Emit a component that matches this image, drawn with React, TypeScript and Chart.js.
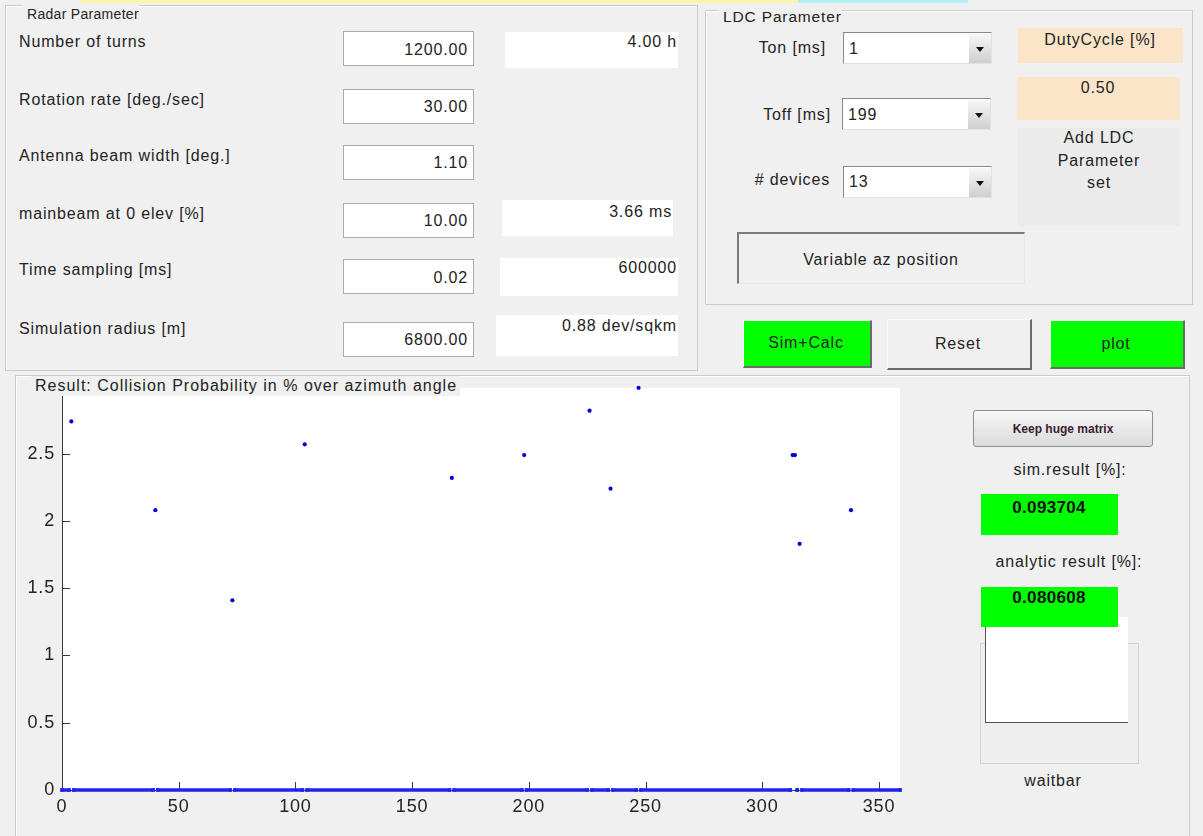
import React, { useEffect, useRef } from "react";
import { Chart, registerables } from "chart.js";

Chart.register(...registerables);

// ---------- chart data ----------
const azimuthRange = [0, 359];
const probabilityRange = [0, 2.99];
const xTickStep = 50;
const yTickStep = 0.5;

// azimuth bins (deg) where a collision was found, and its probability (%)
const hitAzimuthDeg = [4, 40, 73, 104, 167, 198, 226, 235, 247, 313, 314, 316, 338];
const hitProbabilityPct = [2.74, 2.08, 1.41, 2.57, 2.32, 2.49, 2.82, 2.24, 2.99, 2.49, 2.49, 1.83, 2.08];

// runs of consecutive 1-degree bins with probability 0 %
const zeroRunStartDeg = [0, 5, 41, 74, 105, 168, 199, 227, 236, 248, 315, 317, 339];
const zeroRunEndDeg = [3, 39, 72, 103, 166, 197, 225, 234, 246, 312, 315, 337, 359];
const zeroRunValue = 0;

// ---------- GUI texts ----------
const radarLabels = [
  "Number of turns",
  "Rotation rate [deg./sec]",
  "Antenna beam width [deg.]",
  "mainbeam at 0 elev [%]",
  "Time sampling [ms]",
  "Simulation radius [m]",
];
const radarInputs = ["1200.00", "30.00", "1.10", "10.00", "0.02", "6800.00"];
const radarOutputs = ["4.00 h", "", "", "3.66 ms", "600000", "0.88 dev/sqkm"];
const ldcLabels = ["Ton [ms]", "Toff [ms]", "# devices"];
const ldcValues = ["1", "199", "13"];
const simResult = "0.093704";
const analyticResult = "0.080608";

const FONT = '"Liberation Sans", Arial, Helvetica, sans-serif';
const BG = "#f0f0f0";
const TXT = "#232323";

const matlabAxes = {
  id: "matlabAxes",
  beforeDraw(chart: any) {
    const { ctx, chartArea: a } = chart;
    ctx.save();
    ctx.fillStyle = "#ffffff";
    ctx.fillRect(a.left, a.top, a.right - a.left, a.bottom - a.top);
    ctx.restore();
  },
  beforeDatasetsDraw(chart: any) {
    const { ctx, chartArea: a, scales } = chart;
    const len = 8;
    ctx.save();
    ctx.strokeStyle = "#3a3a3a";
    ctx.lineWidth = 1;
    ctx.beginPath();
    for (const t of scales.x.ticks) {
      const px = Math.round(scales.x.getPixelForValue(t.value)) + 0.5;
      ctx.moveTo(px, a.bottom);
      ctx.lineTo(px, a.bottom - len);
    }
    for (const t of scales.y.ticks) {
      const py = Math.round(scales.y.getPixelForValue(t.value)) + 0.5;
      ctx.moveTo(a.left, py);
      ctx.lineTo(a.left + len, py);
    }
    ctx.stroke();
    ctx.restore();
  },
};

function CollisionChart() {
  const ref = useRef<HTMLCanvasElement | null>(null);
  useEffect(() => {
    const canvas = ref.current;
    if (!canvas) return;
    const zeroRuns: any[] = [];
    zeroRunStartDeg.forEach((s, i) => {
      zeroRuns.push({ x: s, y: zeroRunValue });
      zeroRuns.push({ x: zeroRunEndDeg[i], y: zeroRunValue });
      zeroRuns.push({ x: zeroRunEndDeg[i], y: null });
    });
    const hits = hitAzimuthDeg.map((a, i) => ({ x: a, y: hitProbabilityPct[i] }));
    const tickFont = { family: FONT, size: 18 };
    const chart = new Chart(canvas, {
      type: "scatter",
      data: {
        datasets: [
          {
            data: zeroRuns,
            showLine: true,
            spanGaps: false,
            borderColor: "#2222ee",
            backgroundColor: "#2222ee",
            borderWidth: 3.5,
            borderCapStyle: "square",
            pointStyle: "rect",
            pointRadius: 2.4,
            pointBorderWidth: 0,
            pointHoverRadius: 2.4,
            clip: false,
            order: 2,
          } as any,
          {
            data: hits,
            backgroundColor: "#0000dd",
            borderColor: "#0000dd",
            pointRadius: 2.1,
            pointBorderWidth: 0,
            pointHoverRadius: 2.1,
            clip: false,
            order: 1,
          } as any,
        ],
      },
      options: {
        animation: false,
        responsive: false,
        devicePixelRatio: 1,
        events: [],
        layout: { padding: { left: 0, top: 17, right: 20, bottom: 0 } },
        plugins: { legend: { display: false }, tooltip: { enabled: false } },
        scales: {
          x: {
            type: "linear",
            min: azimuthRange[0],
            max: azimuthRange[1],
            grid: { display: false, drawTicks: false },
            border: { display: true, color: "#3a3a3a", width: 1 },
            ticks: {
              stepSize: xTickStep,
              includeBounds: false,
              color: TXT,
              font: tickFont,
              padding: 6,
              maxRotation: 0,
              autoSkip: false,
              callback: (v: any) => String(v),
            },
            afterFit: (s: any) => {
              s.height = 46;
            },
          },
          y: {
            type: "linear",
            min: probabilityRange[0],
            max: probabilityRange[1],
            grid: { display: false, drawTicks: false },
            border: { display: true, color: "#3a3a3a", width: 1 },
            ticks: {
              stepSize: yTickStep,
              includeBounds: false,
              color: TXT,
              font: tickFont,
              padding: 7,
              autoSkip: false,
              callback: (v: any) => String(v),
            },
            afterFit: (s: any) => {
              s.width = 62;
            },
          },
        },
      } as any,
      plugins: [matlabAxes],
    });
    return () => chart.destroy();
  }, []);
  return (
    <canvas
      ref={ref}
      width={920}
      height={466}
      style={{ position: "absolute", left: 0, top: 370, width: 920, height: 466, zIndex: 1 }}
    />
  );
}

const abs = (l: number, t: number, w: number, h: number, extra: any = {}) => ({
  position: "absolute" as const,
  left: l,
  top: t,
  width: w,
  height: h,
  boxSizing: "border-box" as const,
  ...extra,
});

function Txt(props: { x: number; cy: number; w?: number; align?: string; text: string; style?: any }) {
  const w = props.w ?? 300;
  const align = props.align ?? "left";
  const left = align === "left" ? props.x : align === "right" ? props.x - w : props.x - w / 2;
  return (
    <div
      style={{
        position: "absolute",
        left,
        top: props.cy - 10,
        width: w,
        height: 20,
        lineHeight: "20px",
        textAlign: align as any,
        whiteSpace: "nowrap",
        ...(props.style || {}),
      }}
    >
      {props.text}
    </div>
  );
}

function Dropdown(props: { x: number; y: number; text: string; cy: number }) {
  return (
    <div
      style={abs(props.x, props.y, 149, 32, {
        background: "#fff",
        borderTop: "1px solid #8a8a8a",
        borderLeft: "1px solid #8a8a8a",
        borderRight: "1px solid #e2e2e2",
        borderBottom: "1px solid #e2e2e2",
      })}
    >
      <Txt x={5} cy={props.cy - props.y - 1} text={props.text} />
      <div
        style={{
          position: "absolute",
          right: 0,
          top: 1,
          bottom: 0,
          width: 22,
          background: "linear-gradient(#f7f7f7, #cfcfcf)",
        }}
      >
        <div
          style={{
            position: "absolute",
            left: 7,
            top: 13,
            width: 0,
            height: 0,
            borderLeft: "4px solid transparent",
            borderRight: "4px solid transparent",
            borderTop: "5px solid #111",
          }}
        />
      </div>
    </div>
  );
}

export default function App() {
  const labelY = [42, 100, 156, 214, 270, 329];
  const boxY = [31, 89, 145, 203, 259, 322];
  const valueY = [50, 107, 163, 221, 278, 340];
  const outBoxes: any[] = [
    { x: 505, y: 32, w: 173, h: 36, ty: 42 },
    null,
    null,
    { x: 502, y: 200, w: 171, h: 36, ty: 212 },
    { x: 500, y: 258, w: 178, h: 38, ty: 268 },
    { x: 496, y: 315, w: 182, h: 41, ty: 326 },
  ];
  const ldcLabelRight = [826, 831, 830];
  const ldcLabelY = [48, 115, 180];
  const ddPos = [
    { x: 843, y: 32, cy: 49 },
    { x: 842, y: 98, cy: 115 },
    { x: 843, y: 166, cy: 182 },
  ];
  const panelBorder = { border: "1px solid #cbcbcb", boxShadow: "inset 1px 1px 0 #ffffff" };
  const raised = {
    borderTop: "1px solid #fafafa",
    borderLeft: "1px solid #fafafa",
    borderRight: "2px solid #6c6c6c",
    borderBottom: "2px solid #6c6c6c",
  };

  return (
    <div
      style={{
        position: "absolute",
        left: 0,
        top: 0,
        width: 1203,
        height: 836,
        overflow: "hidden",
        background: BG,
        fontFamily: FONT,
        fontSize: 16,
        color: TXT,
        letterSpacing: "0.85px",
      }}
    >
      {/* top strips */}
      <div style={abs(80, 0, 718, 3, { background: "#fbf5ac" })} />
      <div style={abs(798, 0, 170, 3, { background: "#b3f0f6" })} />

      {/* Radar panel */}
      <div style={abs(5, 5, 693, 366, panelBorder)} />
      <Txt x={23} cy={14} w={130} text="Radar Parameter" style={{ paddingLeft: 4, background: BG, width: "auto", fontSize: 14, letterSpacing: "0.3px" }} />
      {radarLabels.map((t, i) => (
        <Txt key={"l" + i} x={19} cy={labelY[i]} text={t} />
      ))}
      {radarInputs.map((t, i) => (
        <div key={"b" + i} style={abs(343, boxY[i], 131, 35, { background: "#fff", border: "1px solid #acacac" })}>
          <Txt x={124} cy={valueY[i] - boxY[i] - 1} w={120} align="right" text={t} />
        </div>
      ))}
      {outBoxes.map((b, i) =>
        b ? (
          <div key={"o" + i} style={abs(b.x, b.y, b.w, b.h, { background: "#fff" })}>
            <Txt x={b.w - 1} cy={b.ty - b.y} w={b.w} align="right" text={radarOutputs[i]} />
          </div>
        ) : null
      )}

      {/* LDC panel */}
      <div style={abs(705, 10, 488, 295, panelBorder)} />
      <Txt x={719} cy={17} w={130} text="LDC Parameter" style={{ paddingLeft: 4, background: BG, width: "auto", fontSize: 15.5 }} />
      {ldcLabels.map((t, i) => (
        <Txt key={"dl" + i} x={ldcLabelRight[i]} cy={ldcLabelY[i]} w={110} align="right" text={t} />
      ))}
      {ldcValues.map((t, i) => (
        <Dropdown key={"dd" + i} x={ddPos[i].x} y={ddPos[i].y} cy={ddPos[i].cy} text={t} />
      ))}
      <div style={abs(1018, 28, 165, 35, { background: "#fbe5c9" })} />
      <Txt x={1100} cy={40} w={165} align="center" text="DutyCycle [%]" />
      <div style={abs(1017, 77, 163, 43, { background: "#fbe5c9" })} />
      <Txt x={1098} cy={88} w={163} align="center" text="0.50" />
      <div style={abs(1018, 128, 162, 98, { background: "#ebebeb" })} />
      <Txt x={1099} cy={138} w={162} align="center" text="Add LDC" />
      <Txt x={1099} cy={161} w={162} align="center" text="Parameter" />
      <Txt x={1099} cy={183} w={162} align="center" text="set" />
      <div
        style={abs(737, 232, 288, 52, {
          background: BG,
          borderTop: "2px solid #7a7a7a",
          borderLeft: "2px solid #7a7a7a",
          borderRight: "1px solid #e6e6e6",
          borderBottom: "1px solid #e6e6e6",
        })}
      />
      <Txt x={881} cy={260} w={288} align="center" text="Variable az position" />

      {/* action buttons */}
      <div style={abs(743, 320, 129, 48, { background: "#00ff00", ...raised })} />
      <Txt x={806} cy={343} w={129} align="center" text="Sim+Calc" />
      <div style={abs(887, 319, 145, 51, { background: BG, ...raised })} />
      <Txt x={958} cy={344} w={145} align="center" text="Reset" />
      <div style={abs(1050, 320, 135, 49, { background: "#00ff00", ...raised })} />
      <Txt x={1116} cy={344} w={135} align="center" text="plot" />

      {/* result panel */}
      <div style={abs(15, 375, 1175, 480, panelBorder)} />
      <CollisionChart />
      <Txt
        x={31}
        cy={386}
        w={440}
        text="Result: Collision Probability in % over azimuth angle"
        style={{ paddingLeft: 4, paddingRight: 3, background: BG, width: "auto", zIndex: 2, letterSpacing: "1px" }}
      />

      {/* right column */}
      <div
        style={abs(973, 410, 180, 37, {
          border: "1px solid #8e8e8e",
          borderRadius: 3,
          background: "linear-gradient(#f8f8f8, #dadada)",
        })}
      />
      <Txt
        x={1063}
        cy={429}
        w={180}
        align="center"
        text="Keep huge matrix"
        style={{ fontSize: 12, fontWeight: "bold", color: "#3a1c33", letterSpacing: "0px" }}
      />
      <Txt x={1070} cy={470} w={160} align="center" text="sim.result [%]:" />
      <div style={abs(981, 494, 137, 41, { background: "#00ff00" })} />
      <Txt x={1049} cy={508} w={137} align="center" text={simResult} style={{ fontWeight: "bold", fontSize: 17, letterSpacing: "0.3px", color: "#101010" }} />
      <Txt x={1069} cy={562} w={170} align="center" text="analytic result [%]:" />
      <div style={abs(980, 643, 159, 121, { background: "#eeeeee", border: "1px solid #d3d3d3" })} />
      <div
        style={abs(985, 617, 143, 106, {
          background: "#ffffff",
          borderLeft: "1px solid #555",
          borderBottom: "1px solid #555",
        })}
      />
      <div style={abs(981, 587, 137, 40, { background: "#00ff00" })} />
      <Txt x={1049} cy={598} w={137} align="center" text={analyticResult} style={{ fontWeight: "bold", fontSize: 17, letterSpacing: "0.3px", color: "#101010" }} />
      <Txt x={1053} cy={781} w={120} align="center" text="waitbar" />
    </div>
  );
}
